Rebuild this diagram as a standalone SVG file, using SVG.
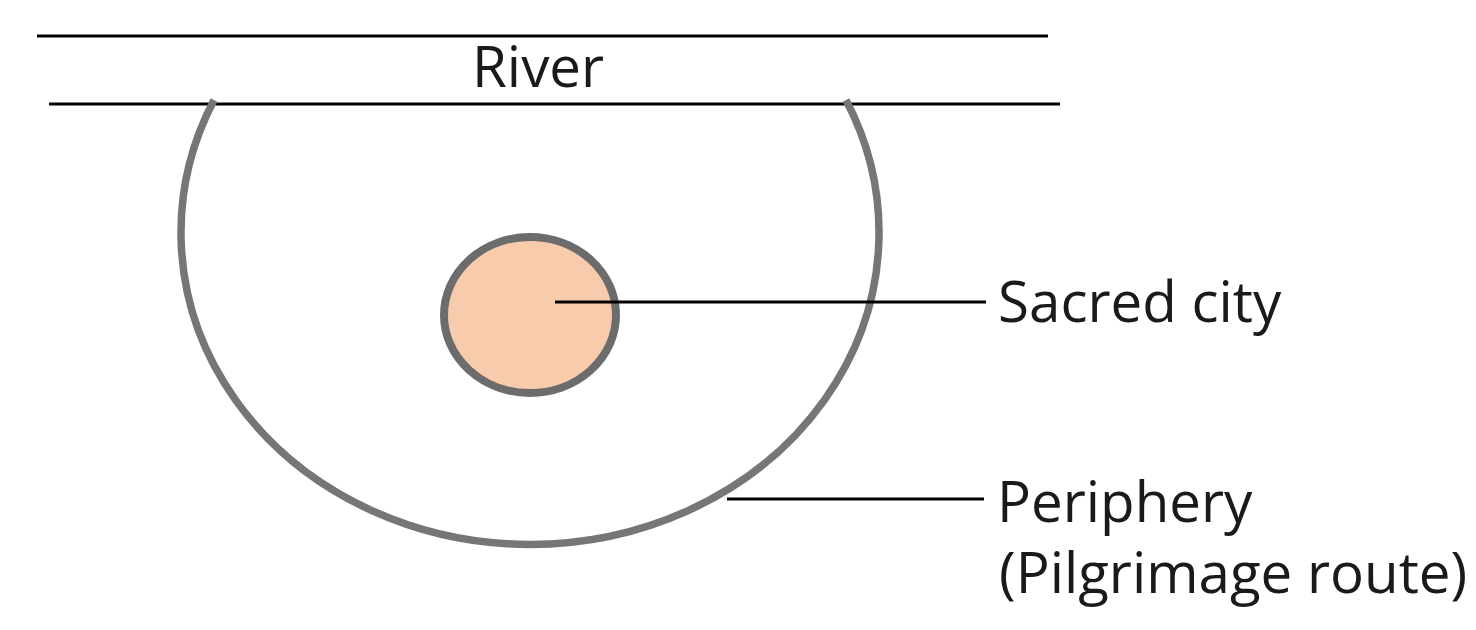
<svg xmlns="http://www.w3.org/2000/svg" width="1476" height="630" viewBox="0 0 1476 630">
<style>
.lbl{font-family:"Open Sans","Liberation Sans",sans-serif;font-size:56.5px;fill:#1a1a1a}
.river{stroke:#000;stroke-width:3.2;fill:none}
.lead{stroke:#000;stroke-width:3.2;fill:none}
</style>
<rect width="1476" height="630" fill="#fff"/>
<g id="river">
<line class="river" x1="37" y1="36" x2="1048" y2="36"/>
<line class="river" x1="49" y1="104" x2="1060" y2="104"/>
<text class="lbl" x="472" y="87">River</text>
</g>
<g id="periphery">
<path d="M 214 100 A 349 312 0 1 0 846 100" fill="none" stroke="#767676" stroke-width="7.5"/>
</g>
<g id="sacred-city">
<ellipse cx="530" cy="315" rx="86" ry="78" fill="#f8cbad" stroke="#6c6c6c" stroke-width="8"/>
</g>
<g id="connectors">
<line class="lead" x1="555" y1="302" x2="986" y2="302"/>
<line class="lead" x1="727" y1="499" x2="984" y2="499"/>
</g>
<g id="labels">
<text class="lbl" x="998" y="322">Sacred city</text>
<text class="lbl" x="997" y="522">Periphery</text>
<text class="lbl" x="999" y="593">(Pilgrimage route)</text>
</g>
</svg>
